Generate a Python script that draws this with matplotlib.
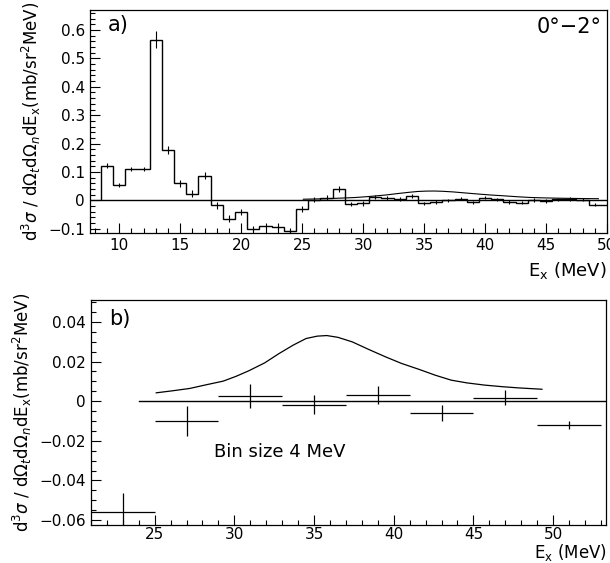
import numpy as np
import matplotlib
matplotlib.use('Agg')
import matplotlib.pyplot as plt
from matplotlib.ticker import MultipleLocator, FixedLocator

# --- data ---
# panel a: 1 MeV bins
bin_centers_a = [9, 10, 11, 12, 13, 14, 15, 16, 17, 18, 19, 20, 21, 22, 23, 24,
                 25, 26, 27, 28, 29, 30, 31, 32, 33, 34, 35, 36, 37, 38, 39, 40,
                 41, 42, 43, 44, 45, 46, 47, 48, 49, 50]
counts_a = [0.122, 0.055, 0.11, 0.11, 0.565, 0.177, 0.061, 0.023, 0.087, -0.017,
            -0.064, -0.041, -0.099, -0.09, -0.093, -0.108, -0.03, 0.003, 0.01,
            0.04, -0.013, -0.01, 0.012, 0.008, 0.005, 0.015, -0.01, -0.005, 0.0,
            0.006, -0.007, 0.01, 0.004, -0.006, -0.008, 0.001, -0.002, 0.004,
            0.005, 0.003, -0.015, -0.015]
errors_a = [0.008, 0.008, 0.008, 0.008, 0.03, 0.015, 0.012, 0.012, 0.012, 0.012,
            0.012, 0.012, 0.01, 0.012, 0.012, 0.008, 0.012, 0.01, 0.01, 0.01,
            0.008, 0.008, 0.006, 0.006, 0.006, 0.006, 0.006, 0.006, 0.006, 0.006,
            0.006, 0.006, 0.006, 0.006, 0.006, 0.006, 0.006, 0.006, 0.006, 0.006,
            0.006, 0.006]

# panel b: 4 MeV bins
centers_b = [23, 27, 31, 35, 39, 43, 47, 51]
values_b = [-0.056, -0.0101, 0.0025, -0.0017, 0.0032, -0.0059, 0.0017, -0.0121]
yerr_b = [0.0095, 0.0076, 0.006, 0.005, 0.0045, 0.0042, 0.0038, 0.0022]
xerr_b = [2, 2, 2, 2, 2, 2, 2, 2]

# model curve (same in both panels)
curve_x = [25.1, 26.1, 27.2, 28.2, 29.3, 30.1, 30.9, 31.9, 32.8, 33.7, 34.5,
           35.2, 35.8, 36.5, 37.4, 38.4, 39.5, 40.5, 41.6, 42.6, 43.6, 44.6,
           45.7, 46.8, 47.8, 49.3]
curve_y = [0.0042, 0.0052, 0.0064, 0.0082, 0.0101, 0.0125, 0.0153, 0.0193,
           0.024, 0.0283, 0.0316, 0.0328, 0.0331, 0.0322, 0.0299, 0.0262,
           0.0223, 0.019, 0.016, 0.0131, 0.0106, 0.0092, 0.0081, 0.0073,
           0.0067, 0.006]

ticks_a = [-0.1, 0, 0.1, 0.2, 0.3, 0.4, 0.5, 0.6]
ticklabels_a = ['\u22120.1', '0', '0.1', '0.2', '0.3', '0.4', '0.5', '0.6']
ticks_b = [-0.06, -0.04, -0.02, 0, 0.02, 0.04]
ticklabels_b = ['\u22120.06', '\u22120.04', '\u22120.02', '0', '0.02', '0.04']

plt.rcParams['font.family'] = ['DejaVu Sans']
plt.rcParams['mathtext.fontset'] = 'dejavusans'

YLABEL = r'd$^3\sigma$ / d$\Omega_t$d$\Omega_n$dE$_\mathrm{x}$(mb/sr$^2$MeV)'
XLABEL = r'E$_\mathrm{x}$ (MeV)'


def style_axes(ax):
    ax.tick_params(which='both', direction='in', top=False, right=False,
                   labelsize=11, width=0.8)
    ax.tick_params(which='major', length=7)
    ax.tick_params(which='minor', length=3.5)
    for s in ax.spines.values():
        s.set_linewidth(0.9)


fig = plt.figure(figsize=(6.1, 5.63), dpi=100)

# --- panel a ---
ax1 = fig.add_axes([0.1475, 0.586, 0.8475, 0.396])
edges_a = np.append(np.array(bin_centers_a) - 0.5, bin_centers_a[-1] + 0.5)
ax1.stairs(counts_a, edges_a, baseline=0, color='black', linewidth=1.0)
ax1.errorbar(bin_centers_a, counts_a, yerr=errors_a, fmt='none',
             ecolor='black', elinewidth=0.8)
ax1.axhline(0, color='black', linewidth=1.0)
ax1.plot(curve_x, curve_y, color='black', linewidth=0.8)
ax1.set_xlim(7.6, 50.0)
ax1.set_ylim(-0.115, 0.67)
ax1.xaxis.set_major_locator(MultipleLocator(5))
ax1.xaxis.set_minor_locator(MultipleLocator(1))
ax1.yaxis.set_major_locator(FixedLocator(ticks_a))
ax1.set_yticklabels(ticklabels_a)
ax1.yaxis.set_minor_locator(MultipleLocator(0.02))
style_axes(ax1)
ax1.text(0.035, 0.935, 'a)', transform=ax1.transAxes, fontsize=15,
         ha='left', va='center')
ax1.text(0.99, 0.925, '0\u00b0\u22122\u00b0', transform=ax1.transAxes,
         fontsize=15, ha='right', va='center')
ax1.text(1.0, -0.12, XLABEL, transform=ax1.transAxes, fontsize=13,
         ha='right', va='top')
ax1.set_ylabel(YLABEL, fontsize=12, labelpad=4)

# --- panel b ---
ax2 = fig.add_axes([0.149, 0.0675, 0.844, 0.3995])
ax2.plot([24, 53.3], [0, 0], color='black', linewidth=1.0)
ax2.errorbar(centers_b, values_b, xerr=xerr_b, yerr=yerr_b, fmt='none',
             ecolor='black', elinewidth=0.9)
ax2.plot(curve_x, curve_y, color='black', linewidth=0.9)
ax2.set_xlim(21, 53.3)
ax2.set_ylim(-0.0625, 0.051)
ax2.xaxis.set_major_locator(MultipleLocator(5))
ax2.xaxis.set_minor_locator(MultipleLocator(1))
ax2.yaxis.set_major_locator(FixedLocator(ticks_b))
ax2.set_yticklabels(ticklabels_b)
ax2.yaxis.set_minor_locator(MultipleLocator(0.005))
style_axes(ax2)
ax2.tick_params(axis='x', pad=1.5)
ax2.text(0.035, 0.915, 'b)', transform=ax2.transAxes, fontsize=15,
         ha='left', va='center')
ax2.text(28.7, -0.0257, 'Bin size 4 MeV', fontsize=13, ha='left', va='center')
fig.text(0.995, 0.0, XLABEL, fontsize=12, ha='right', va='bottom')
ax2.set_ylabel(YLABEL, fontsize=12, labelpad=4)

fig.savefig('out.png', dpi=100, facecolor='white')
plt.close(fig)
